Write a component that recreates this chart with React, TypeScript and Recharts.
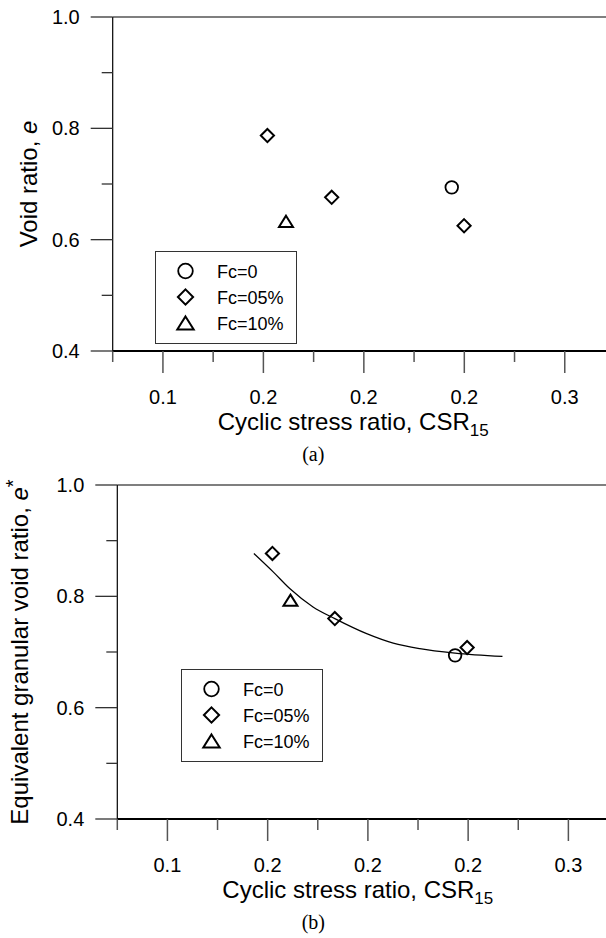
import React from "react";
import { ComposedChart, Scatter, Line, XAxis, YAxis, Legend, ReferenceLine } from "recharts";

const FONT = '"Liberation Sans", Arial, Helvetica, sans-serif';
const SERIF = '"Liberation Serif", "Times New Roman", Times, serif';

// axis ticks
const xMajor = [0.12, 0.16, 0.2, 0.24, 0.28];
const xMajorLabels = ["0.1", "0.2", "0.2", "0.2", "0.3"];
const xMinor = [0.1, 0.14, 0.18, 0.22, 0.26, 0.3];
const yMajor = [0.4, 0.6, 0.8, 1.0];
const yMajorLabels = ["0.4", "0.6", "0.8", "1.0"];
const yMinor = [0.5, 0.7, 0.9];

const seriesNames = ["Fc=0", "Fc=05%", "Fc=10%"];

// (a) void ratio e vs CSR15
const aFc0 = [{ x: 0.235, y: 0.694 }];
const aFc05 = [
  { x: 0.1616, y: 0.787 },
  { x: 0.1872, y: 0.676 },
  { x: 0.2399, y: 0.625 },
];
const aFc10 = [{ x: 0.169, y: 0.633 }];

// (b) equivalent granular void ratio e* vs CSR15
const bFc0 = [{ x: 0.2348, y: 0.694 }];
const bFc05 = [
  { x: 0.1619, y: 0.877 },
  { x: 0.1868, y: 0.76 },
  { x: 0.2396, y: 0.708 },
];
const bFc10 = [{ x: 0.1691, y: 0.793 }];
const bFit = [
  { x: 0.1545, y: 0.877 },
  { x: 0.1622, y: 0.844 },
  { x: 0.1688, y: 0.814 },
  { x: 0.1781, y: 0.781 },
  { x: 0.1868, y: 0.76 },
  { x: 0.1995, y: 0.733 },
  { x: 0.2101, y: 0.716 },
  { x: 0.2207, y: 0.706 },
  { x: 0.2348, y: 0.698 },
  { x: 0.2537, y: 0.692 },
];

const xTicks = [...xMinor, ...xMajor].sort((a, b) => a - b);
const yTicks = [...yMinor, ...yMajor].sort((a, b) => a - b);

const findIdx = (list: number[], v: number) => list.findIndex((t) => Math.abs(t - v) < 1e-6);

const XTick = (props: any) => {
  const { x, y, payload } = props;
  const i = findIdx(xMajor, payload.value);
  const major = i >= 0;
  return (
    <g>
      <line x1={x} x2={x} y1={y} y2={y + (major ? 22 : 11)} stroke="#555" strokeWidth={1.5} />
      {major && (
        <text x={x} y={y + 53} textAnchor="middle" fontSize={20} fontFamily={FONT} fill="#000">
          {xMajorLabels[i]}
        </text>
      )}
    </g>
  );
};

const YTick = (props: any) => {
  const { x, y, payload } = props;
  const i = findIdx(yMajor, payload.value);
  const major = i >= 0;
  return (
    <g>
      <line x1={x - (major ? 22 : 11)} x2={x} y1={y} y2={y} stroke="#333" strokeWidth={1.3} />
      {major && (
        <text x={x - 33} y={y + 7} textAnchor="end" fontSize={20} fontFamily={FONT} fill="#000">
          {yMajorLabels[i]}
        </text>
      )}
    </g>
  );
};

const CircleMark = ({ cx, cy, r = 6.3 }: any) => (
  <circle cx={cx} cy={cy} r={r} fill="none" stroke="#000" strokeWidth={1.8} />
);
const DiamondMark = ({ cx, cy, r = 6.6 }: any) => (
  <path
    d={`M${cx},${cy - r}L${cx + r},${cy}L${cx},${cy + r}L${cx - r},${cy}Z`}
    fill="none"
    stroke="#000"
    strokeWidth={2}
  />
);
const TriangleMark = ({ cx, cy, r = 7 }: any) => (
  <path
    d={`M${cx},${cy - r * 0.8}L${cx + r},${cy + r * 0.8}L${cx - r},${cy + r * 0.8}Z`}
    fill="none"
    stroke="#000"
    strokeWidth={2}
  />
);

const marks = [CircleMark, DiamondMark, TriangleMark];

const LegendBox = () => {
  const rows = [19, 45, 71];
  const sizes = [7.3, 7.6, 8.2];
  return (
    <div style={{ width: 142, height: 93, border: "1.5px solid #333", boxSizing: "border-box", background: "#fff" }}>
      <svg width={139} height={90} style={{ display: "block" }}>
        {seriesNames.map((name, i) => {
          const M = marks[i];
          return (
            <g key={name}>
              <M cx={29.5} cy={rows[i]} r={sizes[i]} />
              <text x={61} y={rows[i] + 6.5} fontSize={18} fontFamily={FONT} fill="#000">
                {name}
              </text>
            </g>
          );
        })}
      </svg>
    </div>
  );
};

interface Pt {
  x: number;
  y: number;
}

interface PanelProps {
  series: Pt[][];
  fit?: Pt[];
  yTitle: () => React.ReactNode;
  yTitleOffset: number;
  axisWidth: number;
  rightMargin: number;
  legendLeft: number;
  legendTop: number;
  caption: string;
  captionX: number;
}

const Panel = (p: PanelProps) => {
  const renderXTitle = (lp: any) => {
    const vb = lp.viewBox || {};
    const cx = vb.x + 240.5;
    return (
      <g>
        <text x={cx} y={vb.y + 78.5} textAnchor="middle" fontSize={24} fontFamily={FONT} fill="#000">
          Cyclic stress ratio, CSR
          <tspan fontSize={17} dy={6}>
            15
          </tspan>
        </text>
        <text x={p.captionX} y={vb.y + 110} textAnchor="middle" fontSize={20} fontFamily={SERIF} fill="#000">
          {p.caption}
        </text>
      </g>
    );
  };

  const renderYTitle = (lp: any) => {
    const vb = lp.viewBox || {};
    const tx = vb.x + vb.width - p.yTitleOffset;
    const ty = vb.y + vb.height / 2;
    return (
      <text
        x={tx}
        y={ty}
        transform={`rotate(-90 ${tx} ${ty})`}
        textAnchor="middle"
        fontSize={24}
        fontFamily={FONT}
        fill="#000"
      >
        {p.yTitle()}
      </text>
    );
  };

  return (
    <ComposedChart
      width={640}
      height={466}
      margin={{ top: 17, right: p.rightMargin, bottom: 0, left: 0 }}
    >
      <XAxis
        type="number"
        dataKey="x"
        domain={[0.1, 0.3]}
        ticks={xTicks}
        interval={0}
        allowDataOverflow
        tick={(tp: any) => <XTick {...tp} />}
        tickLine={false}
        tickSize={0}
        tickMargin={0}
        axisLine={{ stroke: "#000", strokeWidth: 2 }}
        height={115}
        label={{ content: renderXTitle }}
      />
      <YAxis
        type="number"
        dataKey="y"
        domain={[0.4, 1.0]}
        ticks={yTicks}
        interval={0}
        allowDataOverflow
        tick={(tp: any) => <YTick {...tp} />}
        tickLine={false}
        tickSize={0}
        tickMargin={0}
        axisLine={{ stroke: "#000", strokeWidth: 1.2 }}
        width={p.axisWidth}
        label={{ content: renderYTitle }}
      />
      <ReferenceLine y={1} stroke="#555" strokeWidth={1.5} />
      {p.fit && (
        <Line
          data={p.fit}
          dataKey="y"
          type="monotone"
          dot={false}
          activeDot={false}
          stroke="#000"
          strokeWidth={1.2}
          legendType="none"
          isAnimationActive={false}
        />
      )}
      {p.series.map((pts, i) => {
        const M = marks[i];
        return (
          <Scatter
            key={seriesNames[i]}
            name={seriesNames[i]}
            data={pts}
            shape={(sp: any) => <M cx={sp.cx} cy={sp.cy} />}
            isAnimationActive={false}
          />
        );
      })}
      <Legend
        layout="vertical"
        align="center"
        verticalAlign="middle"
        wrapperStyle={{ left: p.legendLeft, top: p.legendTop, width: 142, height: 93 }}
        content={() => <LegendBox />}
      />
    </ComposedChart>
  );
};

export default function App() {
  return (
    <div style={{ position: "absolute", left: 0, top: 0, width: 606, height: 938, overflow: "hidden", background: "#fff" }}>
      <div style={{ position: "absolute", left: 0, top: 0 }}>
        <Panel
          series={[aFc0, aFc05, aFc10]}
          yTitle={() => (
            <>
              Void ratio, <tspan fontStyle="italic">e</tspan>
            </>
          )}
          yTitleOffset={76}
          axisWidth={112.7}
          rightMargin={25}
          legendLeft={154.6}
          legendTop={250.5}
          caption="(a)"
          captionX={313.3}
        />
      </div>
      <div style={{ position: "absolute", left: 0, top: 468 }}>
        <Panel
          series={[bFc0, bFc05, bFc10]}
          fit={bFit}
          yTitle={() => (
            <>
              Equivalent granular void ratio, <tspan fontStyle="italic">e</tspan>
              <tspan fontSize={20} dy={-8}>*</tspan>
            </>
          )}
          yTitleOffset={89}
          axisWidth={117.3}
          rightMargin={21.5}
          legendLeft={180.5}
          legendTop={201.3}
          caption="(b)"
          captionX={313.3}
        />
      </div>
    </div>
  );
}
